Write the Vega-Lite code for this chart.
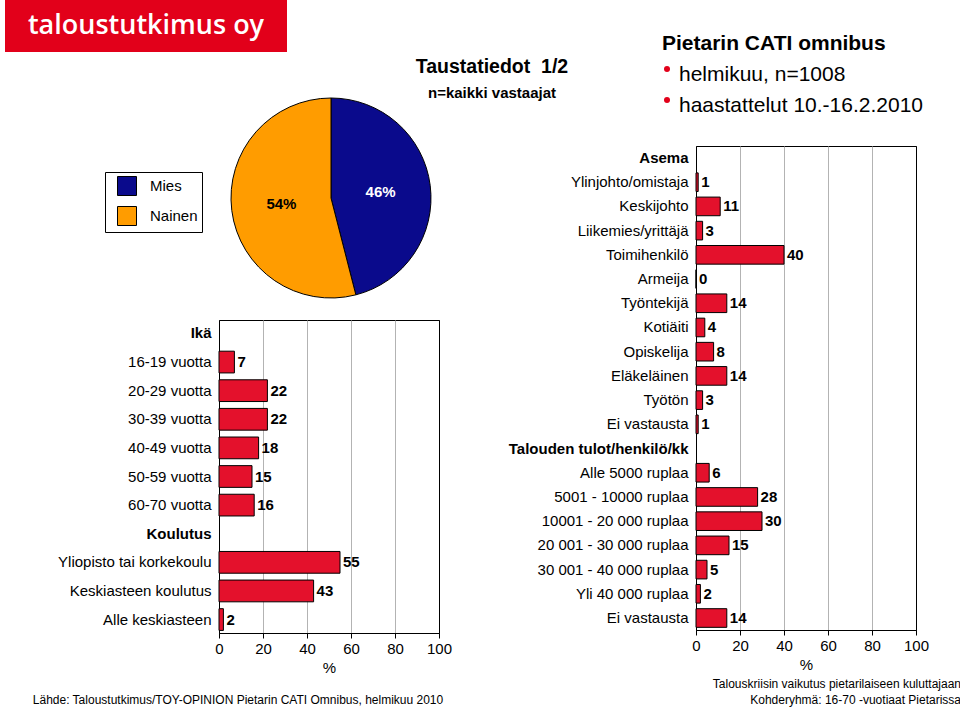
{
  "$schema": "https://vega.github.io/schema/vega-lite/v6.json",
  "background": "white",
  "padding": {"left": 5, "top": 0, "right": 0, "bottom": 0},
  "config": {"font": "Liberation Sans", "view": {"stroke": null}},
  "spacing": -269,
  "align": "none",
  "hconcat": [
    {
      "width": 282,
      "height": 52,
      "view": {"fill": "#e2001a", "stroke": null},
      "data": {"values": [{"brand": "taloustutkimus oy"}]},
      "mark": {"type": "text", "color": "white", "font": "Open Sans", "fontWeight": 600, "fontSize": 27, "align": "center", "baseline": "middle"},
      "encoding": {"text": {"field": "brand"}}
    },
    {
      "spacing": -270,
      "align": "none",
      "hconcat": [
        {
          "spacing": -14,
          "align": "none",
          "vconcat": [
            {
              "width": 546,
              "height": 110,
              "data": {"values": [{"line": "Taustatiedot\u00a0 1/2"}, {"line": "n=kaikki vastaajat"}]},
              "encoding": {
                "y": {"field": "line", "type": "nominal", "sort": null, "axis": null,
                      "scale": {"type": "point", "domain": ["Taustatiedot\u00a0 1/2", "n=kaikki vastaajat"], "range": [72.5, 97.5], "padding": 0}},
                "text": {"field": "line"}
              },
              "layer": [
                {"transform": [{"filter": "datum.line !== 'n=kaikki vastaajat'"}],
                 "mark": {"type": "text", "fontSize": 19.5, "fontWeight": "bold", "baseline": "alphabetic", "color": "black"}},
                {"transform": [{"filter": "datum.line === 'n=kaikki vastaajat'"}],
                 "mark": {"type": "text", "fontSize": 15, "fontWeight": "bold", "baseline": "alphabetic", "color": "black"}}
              ]
            },
            {
              "spacing": 19,
              "align": "none",
              "vconcat": [
                {
                  "width": 224,
                  "height": 200,
                  "data": {"values": [{"sex": "Mies", "share": 0.46}, {"sex": "Nainen", "share": 0.54}]},
                  "encoding": {"theta": {"field": "share", "type": "quantitative", "stack": true}},
                  "layer": [
                    {
                      "mark": {"type": "arc", "outerRadius": 100, "stroke": "black", "strokeWidth": 1},
                      "encoding": {
                        "color": {"field": "sex", "type": "nominal",
                          "scale": {"domain": ["Mies", "Nainen"], "range": ["#0a0a8c", "#ff9c00"]},
                          "legend": {"orient": "none", "legendX": 100, "legendY": 172, "title": null,
                            "symbolType": "square", "symbolSize": 361, "symbolStrokeColor": "black", "symbolStrokeWidth": 1, "symbolOffset": 8,
                            "labelFontSize": 15, "labelColor": "black", "labelOffset": 13, "rowPadding": 6,
                            "padding": 4, "strokeColor": "black"}}
                      }
                    },
                    {
                      "mark": {"type": "text", "radius": 50, "fontSize": 15, "fontWeight": "bold"},
                      "encoding": {
                        "detail": {"field": "sex"},
                        "text": {"field": "share", "type": "quantitative", "format": ".0%"},
                        "color": {"condition": {"test": "datum.sex === 'Mies'", "value": "white"}, "value": "black"}
                      }
                    }
                  ]
                },
                {
                  "width": 220,
                  "height": 313,
                  "view": {"stroke": "black", "strokeWidth": 1},
                  "title": {"text": "Lähde: Taloustutkimus/TOY-OPINION Pietarin CATI Omnibus, helmikuu 2010", "orient": "bottom", "anchor": "middle", "frame": "group", "dx": -91, "offset": 20, "fontSize": 12, "fontWeight": "normal", "color": "black"},
                  "data": {"values": [
                    {"category": "Ikä", "value": null},
                    {"category": "16-19 vuotta", "value": 7},
                    {"category": "20-29 vuotta", "value": 22},
                    {"category": "30-39 vuotta", "value": 22},
                    {"category": "40-49 vuotta", "value": 18},
                    {"category": "50-59 vuotta", "value": 15},
                    {"category": "60-70 vuotta", "value": 16},
                    {"category": "Koulutus", "value": null},
                    {"category": "Yliopisto tai korkekoulu", "value": 55},
                    {"category": "Keskiasteen koulutus", "value": 43},
                    {"category": "Alle keskiasteen", "value": 2}
                  ]},
                  "encoding": {
                    "y": {"field": "category", "type": "nominal", "sort": null,
                      "scale": {"domain": ["Ikä", "16-19 vuotta", "20-29 vuotta", "30-39 vuotta", "40-49 vuotta", "50-59 vuotta", "60-70 vuotta", "Koulutus", "Yliopisto tai korkekoulu", "Keskiasteen koulutus", "Alle keskiasteen"], "paddingInner": 0.24, "paddingOuter": 0.09},
                      "axis": {"title": null, "ticks": false, "domain": false, "labelFontSize": 15, "labelColor": "black", "labelPadding": 8, "labelLimit": 400, "minExtent": 200,
                        "labelFontWeight": {"condition": {"test": "datum.value === 'Ikä' || datum.value === 'Koulutus'", "value": "bold"}, "value": "normal"}}},
                    "x": {"field": "value", "type": "quantitative", "scale": {"domain": [0, 100], "nice": false},
                      "axis": {"values": [0, 20, 40, 60, 80, 100], "title": "%", "titleFontSize": 15, "titleFontWeight": "normal", "titleColor": "black", "titlePadding": 4,
                        "labelFontSize": 15, "labelColor": "black", "labelPadding": 3, "labelFlush": false, "tickSize": 5, "tickColor": "black", "domainColor": "black",
                        "grid": true, "gridColor": {"condition": {"test": "datum.value === 0 || datum.value === 100", "value": "black"}, "value": "#b3b3b3"}}}
                  },
                  "layer": [
                    {"transform": [{"filter": "isValid(datum.value)"}], "mark": {"type": "bar", "color": "#e4112c", "stroke": "black", "strokeWidth": 1}},
                    {"transform": [{"filter": "isValid(datum.value)"}], "mark": {"type": "text", "align": "left", "dx": 3, "fontSize": 15, "fontWeight": "bold", "color": "black"},
                     "encoding": {"text": {"field": "value", "type": "quantitative"}}}
                  ]
                }
              ]
            }
          ]
        },
        {
          "spacing": 21,
          "align": "none",
          "vconcat": [
            {
              "width": 220,
              "height": 124,
              "data": {"values": [{"line": "Pietarin CATI omnibus"}, {"line": "helmikuu, n=1008"}, {"line": "haastattelut 10.-16.2.2010"}]},
              "encoding": {
                "y": {"field": "line", "type": "nominal", "sort": null, "axis": null,
                      "scale": {"type": "point", "domain": ["Pietarin CATI omnibus", "helmikuu, n=1008", "haastattelut 10.-16.2.2010"], "padding": 1, "align": 0.806}}
              },
              "layer": [
                {"transform": [{"filter": "datum.line === 'Pietarin CATI omnibus'"}],
                 "mark": {"type": "text", "align": "left", "baseline": "alphabetic", "dx": -144, "fontSize": 21, "fontWeight": "bold", "color": "black"},
                 "encoding": {"text": {"field": "line"}}},
                {"transform": [{"filter": "datum.line !== 'Pietarin CATI omnibus'"}],
                 "mark": {"type": "text", "align": "left", "baseline": "alphabetic", "dx": -127, "fontSize": 21, "color": "black"},
                 "encoding": {"text": {"field": "line"}}},
                {"transform": [{"filter": "datum.line !== 'Pietarin CATI omnibus'"}],
                 "mark": {"type": "circle", "color": "#e2001a", "opacity": 1, "size": 36, "xOffset": -139, "yOffset": -12}}
              ]
            },
            {
              "width": 220,
              "height": 484,
              "view": {"stroke": "black", "strokeWidth": 1},
              "title": {"text": ["Talouskriisin vaikutus pietarilaiseen kuluttajaan", "Kohderyhmä: 16-70 -vuotiaat Pietarissa"], "orient": "bottom", "anchor": "end", "frame": "group", "dx": 45, "offset": 7, "fontSize": 12, "fontWeight": "normal", "lineHeight": 16, "color": "black"},
              "data": {"values": [
                {"category": "Asema", "value": null},
                {"category": "Ylinjohto/omistaja", "value": 1},
                {"category": "Keskijohto", "value": 11},
                {"category": "Liikemies/yrittäjä", "value": 3},
                {"category": "Toimihenkilö", "value": 40},
                {"category": "Armeija", "value": 0},
                {"category": "Työntekijä", "value": 14},
                {"category": "Kotiäiti", "value": 4},
                {"category": "Opiskelija", "value": 8},
                {"category": "Eläkeläinen", "value": 14},
                {"category": "Työtön", "value": 3},
                {"category": "Ei vastausta", "value": 1},
                {"category": "Talouden tulot/henkilö/kk", "value": null},
                {"category": "Alle 5000 ruplaa", "value": 6},
                {"category": "5001 - 10000 ruplaa", "value": 28},
                {"category": "10001 - 20 000 ruplaa", "value": 30},
                {"category": "20 001 - 30 000 ruplaa", "value": 15},
                {"category": "30 001 - 40 000 ruplaa", "value": 5},
                {"category": "Yli 40 000 ruplaa", "value": 2},
                {"category": " Ei vastausta", "value": 14}
              ]},
              "encoding": {
                "y": {"field": "category", "type": "nominal", "sort": null,
                  "scale": {"domain": ["Asema", "Ylinjohto/omistaja", "Keskijohto", "Liikemies/yrittäjä", "Toimihenkilö", "Armeija", "Työntekijä", "Kotiäiti", "Opiskelija", "Eläkeläinen", "Työtön", "Ei vastausta", "Talouden tulot/henkilö/kk", "Alle 5000 ruplaa", "5001 - 10000 ruplaa", "10001 - 20 000 ruplaa", "20 001 - 30 000 ruplaa", "30 001 - 40 000 ruplaa", "Yli 40 000 ruplaa", " Ei vastausta"], "paddingInner": 0.23, "paddingOuter": 0.11},
                  "axis": {"title": null, "ticks": false, "domain": false, "labelFontSize": 15, "labelColor": "black", "labelPadding": 8, "labelLimit": 400, "minExtent": 200,
                    "labelExpr": "trim(datum.label)",
                    "labelFontWeight": {"condition": {"test": "datum.value === 'Asema' || datum.value === 'Talouden tulot/henkilö/kk'", "value": "bold"}, "value": "normal"}}},
                "x": {"field": "value", "type": "quantitative", "scale": {"domain": [0, 100], "nice": false},
                  "axis": {"values": [0, 20, 40, 60, 80, 100], "title": "%", "titleFontSize": 15, "titleFontWeight": "normal", "titleColor": "black", "titlePadding": 4,
                    "labelFontSize": 15, "labelColor": "black", "labelPadding": 3, "labelFlush": false, "tickSize": 5, "tickColor": "black", "domainColor": "black",
                    "grid": true, "gridColor": {"condition": {"test": "datum.value === 0 || datum.value === 100", "value": "black"}, "value": "#b3b3b3"}}}
              },
              "layer": [
                {"transform": [{"filter": "isValid(datum.value)"}], "mark": {"type": "bar", "color": "#e4112c", "stroke": "black", "strokeWidth": 1}},
                {"transform": [{"filter": "isValid(datum.value)"}], "mark": {"type": "text", "align": "left", "dx": 3, "fontSize": 15, "fontWeight": "bold", "color": "black"},
                 "encoding": {"text": {"field": "value", "type": "quantitative"}}}
              ]
            }
          ]
        }
      ]
    }
  ]
}
